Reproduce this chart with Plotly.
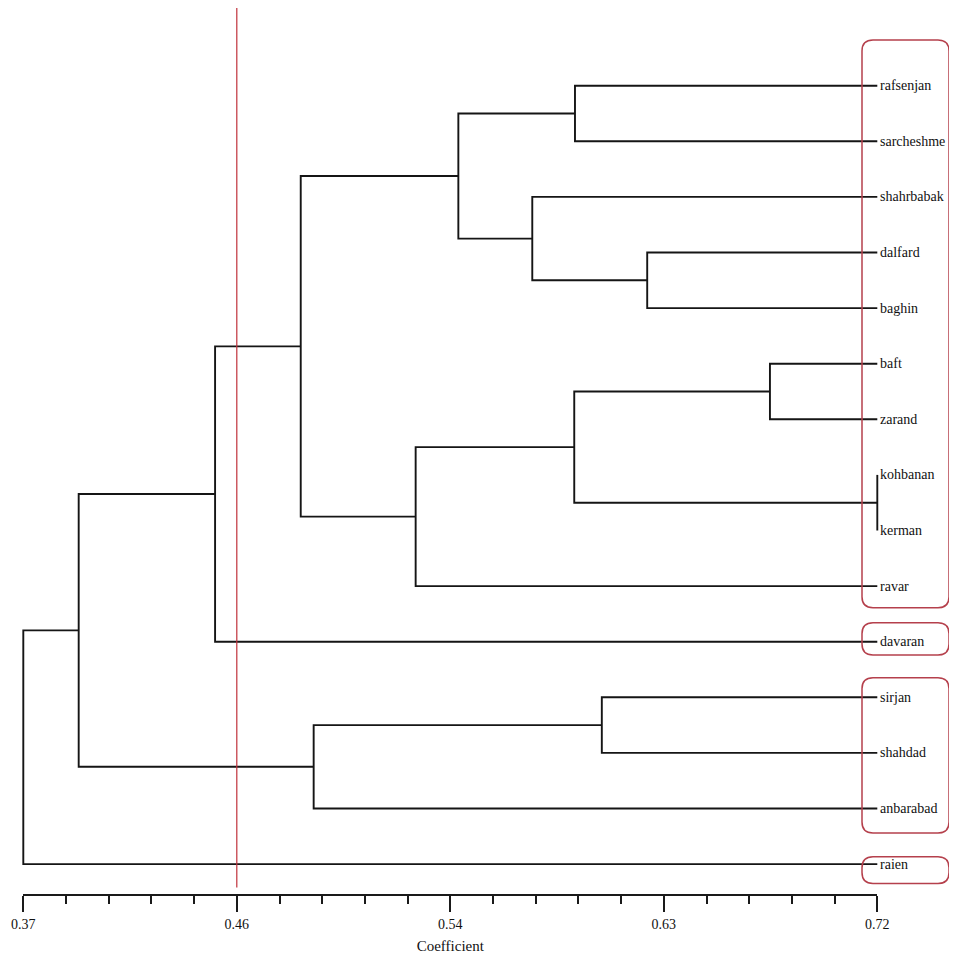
import plotly.graph_objects as go

# ---------------- data ----------------
leaves = ["rafsenjan", "sarcheshme", "shahrbabak", "dalfard", "baghin",
          "baft", "zarand", "kohbanan", "kerman", "ravar", "davaran",
          "sirjan", "shahdad", "anbarabad", "raien"]

# merges: (child_a, child_b, coefficient); children are leaf names or merge ids "m#"
merge_a = ["kohbanan", "baft", "dalfard", "sirjan", "rafsenjan", "m2", "shahrbabak",
           "m6", "m5", "m9", "m4", "m10", "m12", "m13"]
merge_b = ["kerman", "zarand", "baghin", "shahdad", "sarcheshme", "m1", "m3",
           "ravar", "m7", "m8", "anbarabad", "davaran", "m11", "raien"]
merge_h = [0.72, 0.676, 0.6257, 0.6071, 0.5961, 0.5958, 0.5786,
           0.5308, 0.5483, 0.4837, 0.489, 0.4486, 0.3927, 0.37]

tick_vals = [0.37, 0.4575, 0.545, 0.6325, 0.72]
tick_text = ["0.37", "0.46", "0.54", "0.63", "0.72"]
minor_step = 0.0175
cut_value = 0.4575

# groups (first leaf, last leaf) outlined by red rounded boxes
group_first = ["rafsenjan", "davaran", "sirjan", "raien"]
group_last = ["ravar", "davaran", "anbarabad", "raien"]

# ---------------- geometry / style ----------------
OFF = 8                                    # page body margin
W, H = 957 - OFF, 962 - 2 * OFF
PX_LEFT, PX_RIGHT = 23.3 - OFF, 877.3 - OFF   # pixel positions of 0.37 and 0.72
AX_Y = 894 - OFF                               # pixel row of the axis line
Y0_PX, DY_PX = 85.7 - OFF, 55.6                # first leaf row and leaf spacing
ppu = (PX_RIGHT - PX_LEFT) / (tick_vals[-1] - tick_vals[0])
x_lo = tick_vals[0] - PX_LEFT / ppu
x_hi = tick_vals[-1] + (W - PX_RIGHT) / ppu
y_top = (0 - Y0_PX) / DY_PX
y_bot = (AX_Y - Y0_PX) / DY_PX

LEAF_X = tick_vals[-1]
FONT = "Liberation Serif"

# ---------------- build dendrogram coordinates ----------------
pos = {name: (LEAF_X, i) for i, name in enumerate(leaves)}
xs, ys = [], []
for k, (a, b, h) in enumerate(zip(merge_a, merge_b, merge_h), start=1):
    xa, ya = pos[a]
    xb, yb = pos[b]
    xs += [xa, h, h, xb, None]
    ys += [ya, ya, yb, yb, None]
    pos[f"m{k}"] = (h, (ya + yb) / 2)

fig = go.Figure()
# dummy trace for the visible coefficient axis (drawn first so its subplot sits below)
fig.add_trace(go.Scatter(x=[tick_vals[0], tick_vals[-1]], y=[None, None],
                         xaxis="x2", yaxis="y", mode="lines",
                         hoverinfo="skip", showlegend=False))
fig.add_trace(go.Scatter(x=xs, y=ys, mode="lines",
                         line=dict(color="#151515", width=1.9),
                         hoverinfo="skip", showlegend=False))

# leaf labels
for i, name in enumerate(leaves):
    fig.add_annotation(x=LEAF_X, y=i, text=name, showarrow=False,
                       xanchor="left", yanchor="middle", xshift=1,
                       font=dict(family=FONT, size=14, color="#111"))

# cut line
fig.add_shape(type="line", xref="x", yref="paper",
              x0=cut_value, x1=cut_value,
              y0=(AX_Y - (887 - OFF)) / H, y1=1.0,
              line=dict(color="#c0303a", width=1.2))

# rounded red boxes around groups
box_left = tick_vals[-1] + (862 - 877.3) / ppu
box_right = tick_vals[-1] + (949 - 877.3) / ppu
pad_top = [0.82, 0.34, 0.35, 0.13]
pad_bot = [0.39, 0.24, 0.44, 0.35]
rx = 11 / ppu
ry = 11 / DY_PX
for gf, gl, pt, pb in zip(group_first, group_last, pad_top, pad_bot):
    t = leaves.index(gf) - pt
    b = leaves.index(gl) + pb
    r_y = min(ry, (b - t) / 2)
    L, R = box_left, box_right
    path = (f"M {L+rx},{t} L {R-rx},{t} Q {R},{t} {R},{t+r_y} "
            f"L {R},{b-r_y} Q {R},{b} {R-rx},{b} "
            f"L {L+rx},{b} Q {L},{b} {L},{b-r_y} "
            f"L {L},{t+r_y} Q {L},{t} {L+rx},{t} Z")
    fig.add_shape(type="path", path=path, xref="x", yref="y",
                  line=dict(color="#b5404c", width=1.5))

fig.update_layout(
    width=W, height=H,
    margin=dict(l=0, r=0, t=0, b=H - AX_Y, autoexpand=False),
    paper_bgcolor="white", plot_bgcolor="rgba(0,0,0,0)",
    showlegend=False,
    xaxis=dict(domain=[0, 1], range=[x_lo, x_hi], visible=False,
               fixedrange=True, automargin=False),
    xaxis2=dict(domain=[PX_LEFT / W, PX_RIGHT / W], range=[tick_vals[0], tick_vals[-1]],
                anchor="y", showline=True, linecolor="#1a1a1a", linewidth=1.8,
                showgrid=False, zeroline=False, automargin=False, fixedrange=True,
                ticks="outside", ticklen=16, tickwidth=1.5, tickcolor="#1a1a1a",
                tickmode="array", tickvals=tick_vals, ticktext=tick_text,
                minor=dict(ticks="outside", ticklen=8, tickwidth=1.5, tickcolor="#1a1a1a",
                           tick0=tick_vals[0], dtick=minor_step, showgrid=False),
                tickfont=dict(family=FONT, size=14, color="#111"),
                title=dict(text="Coefficient", standoff=15,
                           font=dict(family=FONT, size=15, color="#111"))),
    yaxis=dict(domain=[0, 1], range=[y_bot, y_top], visible=False,
               fixedrange=True, automargin=False),
)

fig.write_html("out.html", config={"displayModeBar": False})
